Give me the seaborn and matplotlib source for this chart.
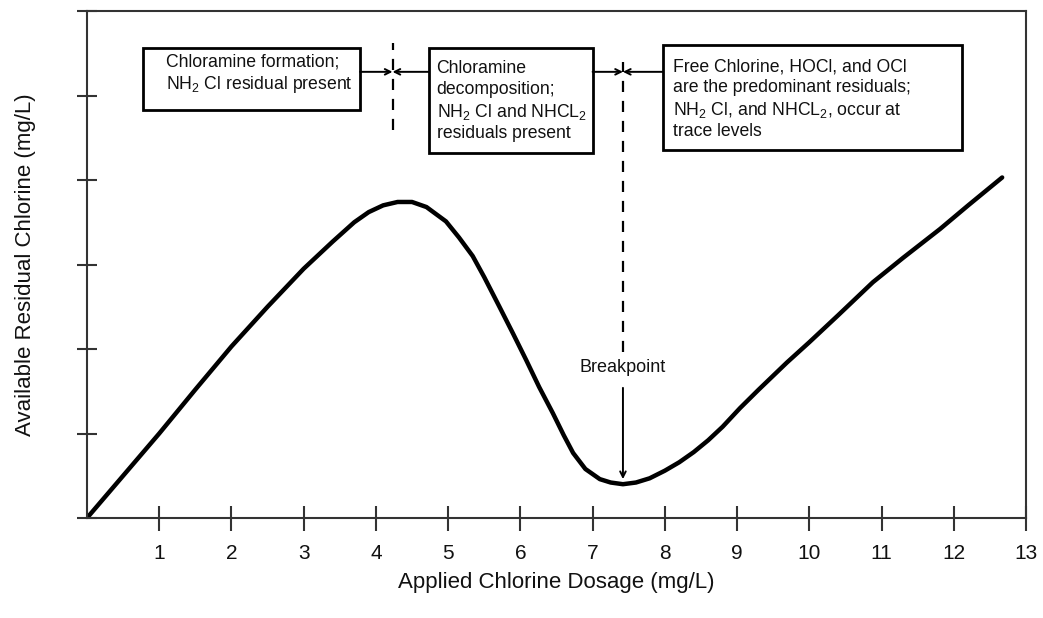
import numpy as np
import pandas as pd
import matplotlib
matplotlib.use("Agg")
import matplotlib.pyplot as plt
from matplotlib.patches import Rectangle
import seaborn as sns

# breakpoint chlorination curve
dose = [0.0, 0.5, 1.0, 1.5, 2.0, 2.5, 3.0, 3.4, 3.7, 3.9, 4.1, 4.3, 4.5, 4.7,
        4.97, 5.15, 5.34, 5.5, 5.71, 5.9, 6.08, 6.26, 6.45, 6.6, 6.73, 6.9,
        7.1, 7.25, 7.42, 7.6, 7.79, 8.0, 8.2, 8.4, 8.6, 8.8, 9.04, 9.3, 9.69,
        10.0, 10.4, 10.88, 11.3, 11.81, 12.2, 12.67]
residual = [0.0, 0.5, 1.0, 1.52, 2.03, 2.5, 2.95, 3.27, 3.5, 3.62, 3.7, 3.74,
            3.74, 3.68, 3.51, 3.32, 3.10, 2.85, 2.50, 2.18, 1.87, 1.55, 1.24,
            0.98, 0.77, 0.58, 0.46, 0.42, 0.40, 0.42, 0.47, 0.56, 0.66, 0.78,
            0.92, 1.08, 1.30, 1.52, 1.84, 2.08, 2.40, 2.79, 3.08, 3.42, 3.70,
            4.03]
x_ticks = list(range(1, 14))
y_ticks = list(range(0, 7))

box_texts = [
    "Chloramine formation;\nNH$_2$ Cl residual present",
    "Chloramine\ndecomposition;\nNH$_2$ Cl and NHCL$_2$\nresiduals present",
    "Free Chlorine, HOCl, and OCl\nare the predominant residuals;\nNH$_2$ Cl, and NHCL$_2$, occur at\ntrace levels",
]
zone_edges = [4.23, 7.42]
breakpoint_x = 7.42

df = pd.DataFrame({"dose": dose, "residual": residual})

sns.set_style("ticks")
plt.rcParams["font.family"] = ["Liberation Sans", "DejaVu Sans"]
plt.rcParams["mathtext.default"] = "regular"

fig = plt.figure(figsize=(10.43, 6.18), dpi=100)
ax = fig.add_axes([0.0834, 0.1618, 0.9003, 0.8204])

sns.lineplot(data=df, x="dose", y="residual", ax=ax, color="black", lw=3.2,
             solid_capstyle="round", solid_joinstyle="round")

ax.set_xlim(0, 13)
ax.set_ylim(0, 6)
ax.set_xticks(x_ticks)
ax.set_yticks(y_ticks)
ax.set_yticklabels([])
ax.tick_params(axis="x", bottom=True, direction="inout", length=18, width=1.5,
               color="#333333", labelsize=15, labelcolor="#111111", pad=10)
ax.tick_params(axis="y", left=True, direction="inout", length=15, width=1.5,
               color="#333333")
for s in ax.spines.values():
    s.set_visible(True)
    s.set_color("#333333")
    s.set_linewidth(1.5)

ax.set_xlabel("Applied Chlorine Dosage (mg/L)", fontsize=16, labelpad=6,
              color="#111111")
ax.set_ylabel("Available Residual Chlorine (mg/L)", fontsize=16, labelpad=26,
              color="#111111")

# annotation boxes
boxes = [(0.776, 4.83, 3.78, 5.56), (4.73, 4.32, 7.0, 5.56), (7.97, 4.36, 12.11, 5.60)]
text_pos = [(1.095, 5.50), (4.84, 5.42), (8.11, 5.44)]
for (x0, y0, x1, y1), (tx, ty), txt in zip(boxes, text_pos, box_texts):
    ax.add_patch(Rectangle((x0, y0), x1 - x0, y1 - y0, fill=False, ec="black", lw=2))
    ax.text(tx, ty, txt, fontsize=12.7, va="top", ha="left", linespacing=1.27,
            color="#111111")

# dashed zone boundaries
ax.plot([zone_edges[0]] * 2, [4.59, 5.62], color="black", lw=1.6, ls=(0, (5, 4)))
ax.plot([zone_edges[1]] * 2, [1.96, 5.40], color="black", lw=1.6, ls=(0, (5, 4)))

arr = dict(arrowstyle="->", lw=1.4, color="black", shrinkA=0, shrinkB=0)
ay = 5.28
ax.annotate("", xy=(zone_edges[0], ay), xytext=(boxes[0][2], ay), arrowprops=arr)
ax.annotate("", xy=(zone_edges[0], ay), xytext=(boxes[1][0], ay), arrowprops=arr)
ax.annotate("", xy=(zone_edges[1], ay), xytext=(boxes[1][2], ay), arrowprops=arr)
ax.annotate("", xy=(zone_edges[1], ay), xytext=(boxes[2][0], ay), arrowprops=arr)

ax.text(breakpoint_x, 1.78, "Breakpoint", fontsize=13, ha="center", va="center",
        color="#111111")
ax.annotate("", xy=(breakpoint_x, 0.46), xytext=(breakpoint_x, 1.54), arrowprops=arr)

fig.savefig("out.png", dpi=100)
